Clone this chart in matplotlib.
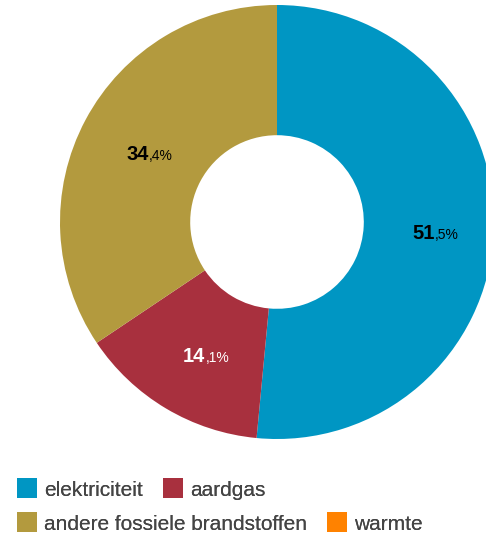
import matplotlib
matplotlib.use("Agg")
import matplotlib.pyplot as plt
from matplotlib.lines import Line2D
from matplotlib.offsetbox import TextArea, HPacker, AnnotationBbox
import numpy as np

plt.rcParams['font.family'] = ['Liberation Sans', 'DejaVu Sans']

categories = ['elektriciteit', 'aardgas', 'andere fossiele brandstoffen', 'warmte']
shares = [51.5, 14.1, 34.4, 0.0]
colors = ['#0096C3', '#A8303E', '#B39A3E', '#FF8200']
label_colors = ['black', 'white', 'black', 'black']

fig = plt.figure(figsize=(4.86, 5.37), dpi=100)
ax = fig.add_axes([60 / 486, 1 - 439 / 537, 434 / 486, 434 / 537])

wedges, _ = ax.pie(shares, colors=colors, startangle=90, counterclock=False,
                   radius=1.0, wedgeprops=dict(width=0.6, linewidth=0))
ax.set_xlim(-1, 1)
ax.set_ylim(-1, 1)
ax.set_aspect('equal')
ax.axis('off')

# labels: big bold integer part, small decimal part (Dutch comma)
total = sum(shares)
start = 90.0
for val, col in zip(shares, label_colors):
    sweep = val / total * 360
    mid = np.deg2rad(start - sweep / 2)
    start -= sweep
    if val <= 0:
        continue
    whole, frac = f"{val:.1f}".split('.')
    big = TextArea(whole, textprops=dict(fontsize=14.5, fontweight='bold', color=col))
    small = TextArea(f",{frac}%", textprops=dict(fontsize=10, color=col))
    box = HPacker(children=[big, small], align='baseline', pad=0, sep=0)
    r = 0.70
    ab = AnnotationBbox(box, (r * np.cos(mid), r * np.sin(mid)),
                        xybox=(5, -3), boxcoords='offset points', frameon=False,
                        box_alignment=(0.5, 0.5), pad=0)
    ax.add_artist(ab)

# legend in two rows
def handle(c):
    return Line2D([], [], marker='s', linestyle='none', markersize=14,
                  markerfacecolor=c, markeredgewidth=0)

rows = [[0, 1], [2, 3]]
row_y = [490, 524]
for idx, y in zip(rows, row_y):
    leg = fig.legend([handle(colors[i]) for i in idx], [categories[i] for i in idx],
                     loc='center left', bbox_to_anchor=(18 / 486, 1 - y / 537),
                     ncol=2, frameon=False, fontsize=15, labelcolor='#444444',
                     handlelength=0.9, handletextpad=0.35, columnspacing=1.0,
                     borderpad=0, borderaxespad=0)
    fig.add_artist(leg)

fig.savefig('out.png', dpi=100)
